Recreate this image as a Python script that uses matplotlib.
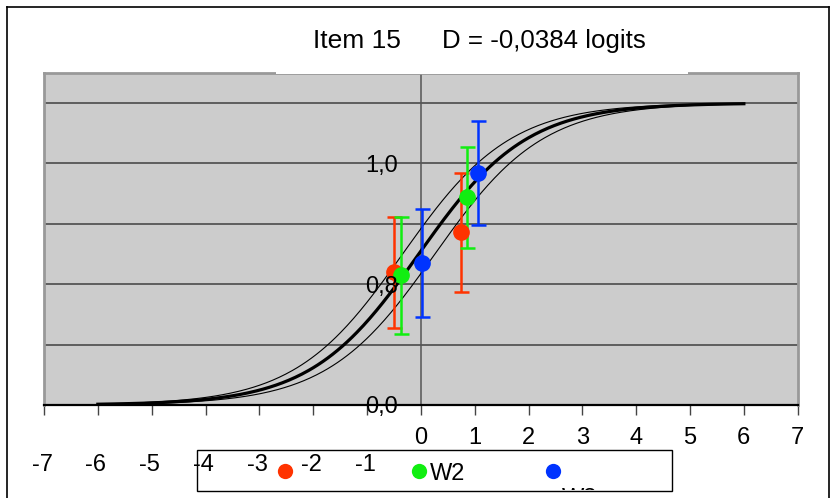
import numpy as np
import matplotlib
matplotlib.use("Agg")
import matplotlib.pyplot as plt
from matplotlib.patches import Rectangle
from matplotlib.lines import Line2D
from matplotlib.transforms import Bbox

plt.rcParams['font.family'] = ['Liberation Sans', 'DejaVu Sans']

# ---- data ----
title_item = "Item 15"
title_d = "D = -0,0384 logits"
D = -0.0384          # item difficulty (logits)
band_shift = 0.3     # half-width of the confidence band (logits)

series_names = ["W1", "W2", "W3"]
series_colors = ["#ff3300", "#11ee11", "#0033ff"]
# measure (logits), observed score, error-bar low, error-bar high
pt_x = {"W1": [-0.50, 0.75], "W2": [-0.37, 0.85], "W3": [0.03, 1.07]}
pt_y = {"W1": [0.441, 0.572], "W2": [0.430, 0.688], "W3": [0.469, 0.769]}
pt_lo = {"W1": [0.254, 0.375], "W2": [0.234, 0.519], "W3": [0.292, 0.596]}
pt_hi = {"W1": [0.621, 0.769], "W2": [0.624, 0.855], "W3": [0.648, 0.941]}

xtick_upper = [0, 1, 2, 3, 4, 5, 6, 7]
xtick_lower = [-7, -6, -5, -4, -3, -2, -1]
ytick_pos = [0.0, 0.4, 0.8]
ytick_labels = ["0,0", "0,8", "1,0"]
grid_y = [0.2, 0.4, 0.6, 0.8, 1.0]

W, H = 830, 498
fig = plt.figure(figsize=(W / 100, H / 100), dpi=100)

def fx(x):
    return x / W

def fy(y):
    return 1 - y / H

# axes geometry in pixels
L, R, T, B = 44, 797.7, 72.7, 405
ax = fig.add_axes([fx(L), fy(B), fx(R - L), (B - T) / H])
ax.set_xlim(-7, 7)
ax.set_ylim(0, (B - T) / 302.0)
ax.set_facecolor("#cccccc")
for s in ["left", "top", "right"]:
    ax.spines[s].set_color("#999999")
    ax.spines[s].set_linewidth(2.0)
ax.spines["bottom"].set_color("black")
ax.spines["bottom"].set_linewidth(1.6)
ax.set_xticks(range(-7, 8))
ax.set_xticklabels([])
ax.set_yticks([])
ax.tick_params(axis="x", length=7, width=1.0, color="#444444", direction="out")

for g in grid_y:
    ax.axhline(g, color="#555555", lw=1.3, zorder=1)
ax.axvline(0, color="#555555", lw=1.1, zorder=1)

# model curves
xs = np.linspace(-6, 6, 400)
icc = 1 / (1 + np.exp(-(xs - D)))
up = 1 / (1 + np.exp(-(xs - D + band_shift)))
lo = 1 / (1 + np.exp(-(xs - D - band_shift)))
ax.plot(xs, up, color="black", lw=0.8, zorder=2)
ax.plot(xs, lo, color="black", lw=0.8, zorder=2)
ax.plot(xs, icc, color="black", lw=2.3, zorder=3)

for name, col in zip(series_names, series_colors):
    x = np.array(pt_x[name]); y = np.array(pt_y[name])
    yerr = [y - np.array(pt_lo[name]), np.array(pt_hi[name]) - y]
    ax.errorbar(x, y, yerr=yerr, fmt="o", color=col, ecolor=col, mec=col,
                elinewidth=1.8, capsize=5.4, capthick=1.8, markersize=11,
                zorder=4)

# y tick labels inside the plot
for v, lab in zip(ytick_pos, ytick_labels):
    ax.text(-0.43, v - 0.008, lab, ha="right", va="center", fontsize=17,
            color="black", zorder=5)

# x tick labels
for v in xtick_upper:
    fig.text(fx(L + (v + 7) * (R - L) / 14), fy(438), str(v), ha="center",
             va="center", fontsize=17, zorder=10)
for v in xtick_lower:
    fig.text(fx(L + (v + 7) * (R - L) / 14) - 2 / W, fy(465), str(v), ha="center",
             va="center", fontsize=17, zorder=10)

# white title box hiding the top border
fig.patches.append(Rectangle((fx(276), fy(73.8)), fx(688 - 276), (73.8 - 20) / H,
                             transform=fig.transFigure, facecolor="white",
                             edgecolor="none", zorder=5))
fig.text(fx(313), fy(41), title_item, ha="left", va="center", fontsize=19, zorder=6)
fig.text(fx(442), fy(41), title_d, ha="left", va="center", fontsize=18.6, zorder=6)

# outer chart border
fig.lines.append(Line2D([fx(7), fx(7)], [fy(7), 0], transform=fig.transFigure,
                        color="black", lw=1.2))
fig.lines.append(Line2D([fx(7), fx(828.5)], [fy(7), fy(7)], transform=fig.transFigure,
                        color="black", lw=1.2))
fig.lines.append(Line2D([fx(828.5), fx(828.5)], [fy(7), 0], transform=fig.transFigure,
                        color="black", lw=1.2))

# legend box (partially clipped, as in the original)
lx0, lx1, ly0, ly1 = 197, 672, 450, 491
fig.patches.append(Rectangle((fx(lx0), fy(ly1)), fx(lx1 - lx0), (ly1 - ly0) / H,
                             transform=fig.transFigure, facecolor="white",
                             edgecolor="black", lw=1.0, zorder=7))
leg_mx = [285, 419, 553]
for mx, col in zip(leg_mx, series_colors):
    fig.lines.append(Line2D([fx(mx)], [fy(471)], transform=fig.transFigure,
                            marker="o", markersize=11, color=col, markeredgewidth=0,
                            zorder=8))
fig.text(fx(430), fy(474), series_names[1], ha="left", va="center", fontsize=17, zorder=8)
t3 = fig.text(fx(562), fy(499), series_names[2], ha="left", va="center", fontsize=17, zorder=8)
t3.set_clip_box(Bbox.from_extents(lx0, H - ly1 + 1, lx1, H - ly0))
t3.set_clip_on(True)

fig.savefig("out.png", dpi=100)
